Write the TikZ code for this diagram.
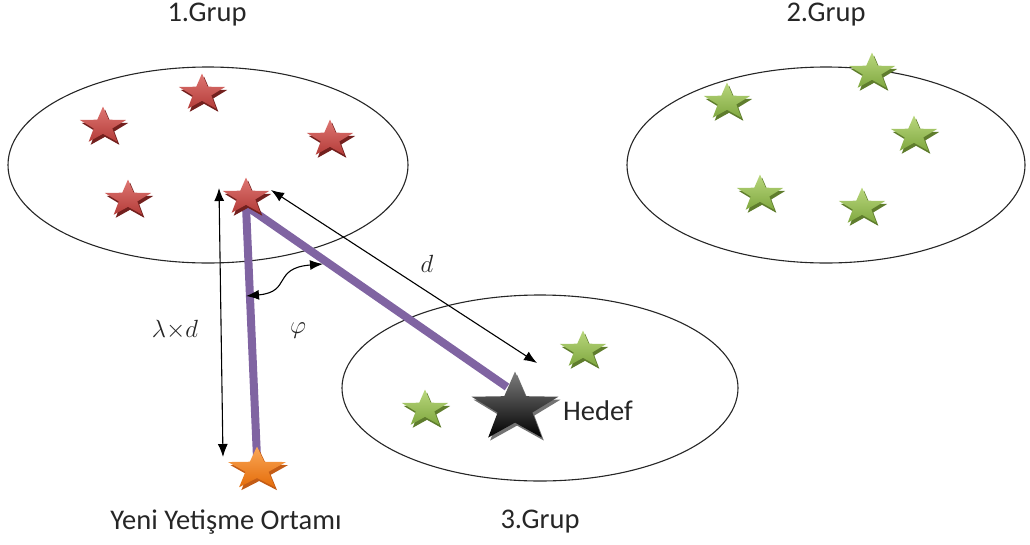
\documentclass[tikz,border=0pt]{standalone}
\usepackage{fontspec}
\setmainfont{Carlito}
\usetikzlibrary{shapes.geometric,arrows.meta}
\newcommand{\putstar}[6]{% x, y, size, xscale, style, name
  \begin{scope}[shift={(#1,#2)},xscale=#4]
    \node[#5 shadow,minimum size=#3,transform shape] (#6s) at (1.6,3) {};
    \node[#5,minimum size=#3,transform shape] (#6) at (0,0) {};
  \end{scope}}
\begin{document}
\begin{tikzpicture}[x=1pt,y=-1pt,
  group/.style={draw=black!85,line width=1.1pt,ellipse,inner sep=0pt},
  starbase/.style={star,star points=5,star point ratio=2.5,inner sep=0pt,draw=none},
  redstar/.style={starbase,
     top color={rgb,255:red,222;green,118;blue,114},bottom color={rgb,255:red,180;green,60;blue,57}},
  greenstar/.style={starbase,
     top color={rgb,255:red,185;green,215;blue,125},bottom color={rgb,255:red,128;green,168;blue,64}},
  blackstar/.style={starbase,
     top color={rgb,255:red,125;green,125;blue,125},bottom color=black},
  orangestar/.style={starbase,
     top color={rgb,255:red,250;green,168;blue,88},bottom color={rgb,255:red,228;green,108;blue,10}},
  redstar shadow/.style={starbase,fill={rgb,255:red,115;green,32;blue,30}},
  greenstar shadow/.style={starbase,fill={rgb,255:red,95;green,125;blue,45}},
  blackstar shadow/.style={starbase,fill=black!55},
  orangestar shadow/.style={starbase,fill={rgb,255:red,195;green,92;blue,22}},
  lbl/.style={font=\fontsize{28.5}{32}\selectfont,text=black!85,inner sep=0pt},
  mlbl/.style={font=\fontsize{26}{30}\selectfont,text=black!85,inner sep=0pt},
  purp/.style={line width=8pt,draw={rgb,255:red,128;green,100;blue,162}},
  dim/.style={line width=1.1pt,draw=black,{Latex[length=13pt,width=10pt]}-{Latex[length=13pt,width=10pt]}}
]
\useasboundingbox (0,0) rectangle (1030,544);
% groups
\node[group,minimum width=400pt,minimum height=196pt] (g1) at (208,165) {};
\node[group,minimum width=398pt,minimum height=196pt] (g2) at (826,165) {};
\node[group,minimum width=396pt,minimum height=186pt] (g3) at (540,388) {};
% labels
\node[lbl] (l1) at (207,15) {1.Grup};
\node[lbl] (l2) at (826,15) {2.Grup};
\node[lbl] (l3) at (540,522) {3.Grup};
\node[lbl] (ly) at (226,522) {Yeni Yetişme Ortamı};
% purple paths
\coordinate (src) at (246,206);
\coordinate (hp) at (507,387);
\coordinate (op) at (257,458);
\draw[purp] (src) -- (hp);
\draw[purp] (src) -- (op);
% red stars
\putstar{103}{126}{39}{1.25}{redstar}{r1}
\putstar{202}{93}{39}{1.25}{redstar}{r2}
\putstar{330}{139}{39}{1.25}{redstar}{r3}
\putstar{128}{199}{39}{1.25}{redstar}{r4}
\putstar{246}{197}{39}{1.25}{redstar}{r5}
% green stars
\putstar{727}{102}{39}{1.25}{greenstar}{v1}
\putstar{872}{72}{39}{1.25}{greenstar}{v2}
\putstar{914}{135}{39}{1.25}{greenstar}{v3}
\putstar{760}{194}{39}{1.25}{greenstar}{v4}
\putstar{862}{207}{39}{1.25}{greenstar}{v5}
\putstar{583}{350}{39}{1.25}{greenstar}{v6}
\putstar{425}{409}{39}{1.25}{greenstar}{v7}
% key stars
\putstar{257}{469}{45}{1.35}{orangestar}{orange}
\putstar{515}{408}{73}{1.25}{blackstar}{hedef}
\node[lbl,anchor=west] (hl) at (563,411) {Hedef};
% arrows
\coordinate (a1) at (219,188);
\coordinate (a2) at (223,457);
\draw[dim] (a1) -- (a2);
\coordinate (b1) at (271,190);
\coordinate (b2) at (537,363);
\draw[dim] (b1) -- (b2);
\coordinate (c1) at (246,296);
\coordinate (c2) at (323,264);
\draw[dim] (c1) .. controls (292,292) and (272,268) .. (c2);
% math labels
\node[mlbl] (dl) at (427,264) {$d$};
\node[mlbl] (ll) at (175,330) {$\lambda{\times}d$};
\node[mlbl] (pl) at (298,331) {$\varphi$};
\end{tikzpicture}
\end{document}
